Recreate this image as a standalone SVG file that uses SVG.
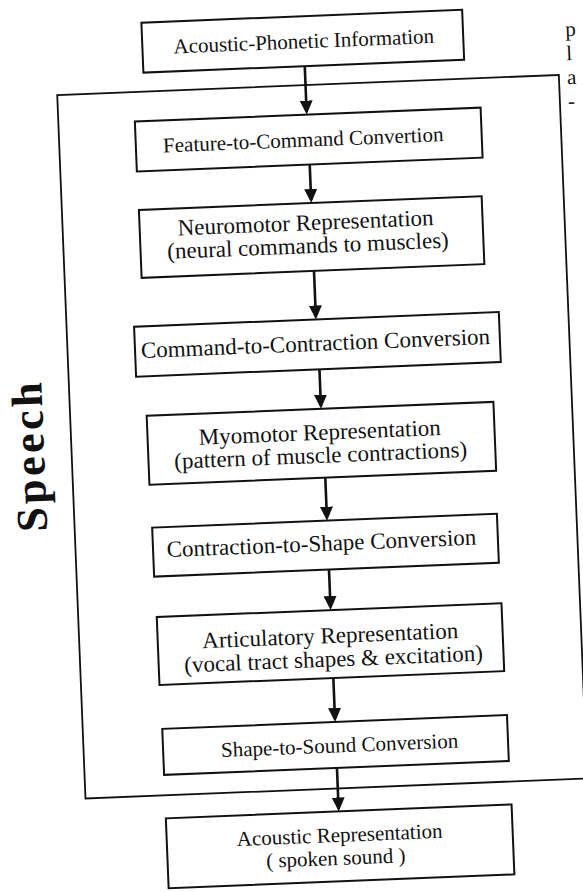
<svg xmlns="http://www.w3.org/2000/svg" width="583" height="892" viewBox="0 0 583 892">
  <style>
    .box { fill: none; stroke: #111; stroke-width: 2; }
    .frame { fill: none; stroke: #111; stroke-width: 1.8; }
    .lbl { font-family: "Liberation Serif", "Times New Roman", serif; fill: #111; text-anchor: middle; }
    .s21 { font-size: 21px; }
    .s23 { font-size: 23px; }
    .conn line { stroke: #111; stroke-width: 2.6; marker-end: url(#head); }
    .side { font-family: "Liberation Serif", "Times New Roman", serif; font-weight: bold; font-size: 44px; letter-spacing: 3.5px; fill: #111; text-anchor: middle; }
    .edge { font-family: "Liberation Serif", "Times New Roman", serif; font-size: 21px; fill: #111; }
  </style>
  <defs>
    <marker id="head" markerUnits="userSpaceOnUse" markerWidth="14" markerHeight="13" refX="11" refY="6.5" orient="auto">
      <path d="M0,0 L14,6.5 L0,13 z" fill="#111"/>
    </marker>
  </defs>
  <rect width="583" height="892" fill="#fff"/>

  <!-- the whole page sits slightly tilted -->
  <g transform="rotate(-2.3 291.5 446)">
    <!-- enclosing frame for the speech stages -->
    <rect id="speech-frame" class="frame" x="71.5" y="86" width="502" height="704"/>
    <text id="speech-label" class="side" transform="translate(44 445) rotate(-90)">Speech</text>

    <g id="acoustic-phonetic">
      <rect class="box" x="158.5" y="17" width="321" height="50"/>
      <text class="lbl s21" x="320" y="49">Acoustic-Phonetic Information</text>
    </g>
    <g id="feature-to-command">
      <rect class="box" x="148" y="115.5" width="346" height="50"/>
      <text class="lbl s21" x="315.5" y="147.5">Feature-to-Command Convertion</text>
    </g>
    <g id="neuromotor">
      <rect class="box" x="148.5" y="204" width="343" height="68"/>
      <text class="lbl s23" x="314.5" y="231">Neuromotor Representation</text>
      <text class="lbl s23" x="316" y="254">(neural commands to muscles)</text>
    </g>
    <g id="command-to-contraction">
      <rect class="box" x="139" y="320.5" width="365" height="50"/>
      <text class="lbl s23" x="319.5" y="352">Command-to-Contraction Conversion</text>
    </g>
    <g id="myomotor">
      <rect class="box" x="148" y="410" width="347" height="69"/>
      <text class="lbl s23" x="320.3" y="441">Myomotor Representation</text>
      <text class="lbl s23" x="320.3" y="464">(pattern of muscle contractions)</text>
    </g>
    <g id="contraction-to-shape">
      <rect class="box" x="149" y="522" width="345" height="49"/>
      <text class="lbl s23" x="317.5" y="552">Contraction-to-Shape Conversion</text>
    </g>
    <g id="articulatory">
      <rect class="box" x="150" y="611.5" width="345" height="68"/>
      <text class="lbl s23" x="322.6" y="644.5">Articulatory Representation</text>
      <text class="lbl s23" x="325" y="668">(vocal tract shapes &amp; excitation)</text>
    </g>
    <g id="shape-to-sound">
      <rect class="box" x="151" y="723.5" width="345" height="46"/>
      <text class="lbl s21" x="327.5" y="754">Shape-to-Sound Conversion</text>
    </g>
    <g id="acoustic">
      <rect class="box" x="151" y="813" width="346" height="70"/>
      <text class="lbl s21" x="324" y="843.5">Acoustic Representation</text>
      <text class="lbl s21" x="319.2" y="866.5">( spoken sound )</text>
    </g>

    <g id="connectors" class="conn">
      <line x1="320" y1="67" x2="320" y2="112.5"/>
      <line x1="321" y1="165.5" x2="321" y2="201"/>
      <line x1="321" y1="272" x2="321" y2="317.5"/>
      <line x1="322.5" y1="370.5" x2="322.5" y2="407"/>
      <line x1="324" y1="479" x2="324" y2="519"/>
      <line x1="324" y1="571" x2="324" y2="608.5"/>
      <line x1="324" y1="679.5" x2="324" y2="720.5"/>
      <line x1="324" y1="769.5" x2="324" y2="810"/>
    </g>
  </g>

  <!-- line starts of the neighbouring column -->
  <g id="margin-text" class="edge" transform="rotate(-2.3 575 75)">
    <text x="567" y="36">p</text>
    <text x="567" y="60">l</text>
    <text x="567" y="84">a</text>
    <text x="567" y="108">-</text>
  </g>
</svg>
